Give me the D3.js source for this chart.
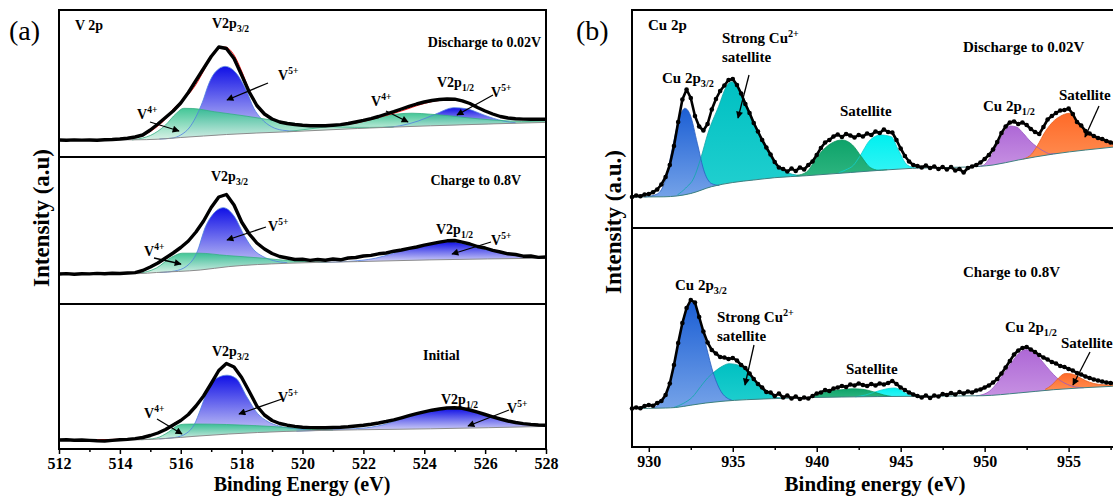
<!DOCTYPE html>
<html>
<head>
<meta charset="utf-8">
<script src="https://cdn.jsdelivr.net/npm/d3@7"></script>
<style>
  body { margin: 0; background: #fff; }
  text { font-family: "Liberation Serif", "Times New Roman", serif; }
</style>
</head>
<body>
<svg id="chart" width="1113" height="500"></svg>
<script>
// ---------- V 2p spectra (512–528 eV, 0.25 eV steps) ----------
const vEnergyStart = 512, vEnergyStep = 0.25;
const vDischarge = [
  17.0,16.8,17.1,16.9, 17.0,16.8,17.2,17.5, 18.0,18.8,20.0,22.0, 27.0,33.0,39.5,46.0,
  54.0,64.5,76.5,88.5, 100.5,110.0,108.5,98.5, 82.0,65.0,51.5,43.0, 38.0,35.0,33.5,32.5,
  31.8,31.3,31.2,31.3, 31.8,32.4,33.5,35.0, 36.6,38.4,40.5,43.0, 45.4,48.0,50.6,53.0,
  55.0,56.5,57.5,58.0, 57.8,56.2,53.5,49.5, 46.0,43.0,40.5,39.0, 38.2,37.9,37.8,37.9, 37.8];
const vCharge = [
  30.0,30.4,29.8,30.3, 30.1,30.6,30.2,30.8, 30.5,31.0,31.4,33.5, 37.0,41.0,46.0,51.0,
  56.5,63.0,72.0,83.0, 96.5,107.0,109.5,99.0, 82.0,70.0,61.0,55.0, 50.5,47.5,46.0,44.5,
  44.8,43.6,44.5,43.8, 45.0,44.2,46.0,46.5, 48.0,48.6,50.2,51.0, 52.8,54.0,55.6,57.0,
  58.8,60.4,61.8,63.2, 63.5,61.8,60.0,57.5, 56.0,53.6,52.0,50.2, 49.5,47.8,48.0,46.6, 47.0];
const vInitial = [
  9.0,9.2,8.8,9.0, 8.6,8.2,8.0,8.6, 9.2,9.6,10.4,11.5, 13.5,16.0,19.5,24.0,
  28.5,34.5,43.0,53.0, 65.5,78.5,85.5,82.0, 71.5,57.5,43.0,34.0, 28.5,25.5,23.8,22.6,
  21.8,21.4,21.3,21.3, 21.5,21.8,22.3,23.0, 23.8,24.8,26.0,27.5, 29.2,31.2,33.3,35.3,
  37.2,38.8,40.0,41.0, 41.3,40.6,39.0,36.8, 34.5,32.2,30.0,28.0, 26.5,25.4,24.6,24.0, 23.8];

// Shirley backgrounds [eV, intensity]
const vDischargeBg = [[512,17],[514.5,17.2],[515.25,17.8],[516,19.5],[516.75,21],[517.5,22.5],[518.5,24],[519.5,25.2],[521.8,28.5],[524.2,31.2],[528,34.6]];
const vChargeBg    = [[512,30],[514.6,30.4],[515.2,31.5],[516.64,34],[517.58,37.4],[519.46,40.7],[521.8,42.4],[524.16,44.1],[528,45.8]];
const vInitialBg   = [[512,9],[514.6,9.2],[515.5,10.5],[516.5,12.8],[517.58,15],[519.46,17.6],[521.8,19.2],[524.2,20.2],[528,22.6]];

// Fitted envelopes
const vDischargeFit = [[512,17],[513.5,17.2],[514.25,18.5],[514.75,21.5],[515.25,31],[515.5,38],[515.75,48],[516,55],[516.25,62.5],[516.5,72.5],[516.75,86],[517,100],[517.25,108.5],[517.45,110],[517.75,102],[518,86],[518.25,67],[518.5,53],[518.75,43.5],[519,38],[519.5,33.5],[520.25,31.5],[521,31.5],[521.75,34],[522.5,39.5],[523.25,46],[524,53.5],[524.5,56.5],[525,57],[525.5,53],[526,46],[526.5,41],[527,38.2],[528,37.5]];
const vChargeFit = [[512,30.2],[514.5,31],[515,36.5],[515.5,45.5],[516,56],[516.5,71.5],[517,95],[517.25,106],[517.45,109.5],[517.75,99],[518,83],[518.5,61],[519,50.5],[519.5,46],[520.5,44],[521.5,45.2],[522.5,50],[523.5,55.5],[524.5,61.5],[525,63],[525.5,60],[526,55.5],[526.5,51.8],[527,49],[528,46.8]];
const vInitialFit = [[512,9],[514.5,10],[515,13],[515.5,19.5],[515.8,26],[516.1,31],[516.4,39],[516.7,50],[517,66],[517.3,80],[517.5,84.5],[517.8,80],[518.1,66],[518.4,48],[518.75,34],[519.2,26],[520,22],[521,21.5],[522,24],[523,29.3],[524,37],[524.75,41],[525.25,40.3],[526,34.5],[526.75,28],[527.5,24.5],[528,23.7]];

// Fitted components [eV, intensity]
const vDischargeV5a = [[515.3,18],[515.7,18.8],[516.0,22],[516.3,30],[516.58,45.3],[516.75,58],[516.88,70],[517.11,84],[517.46,90.6],[517.82,83.9],[518.17,65.4],[518.4,48.7],[518.64,38.6],[518.99,30.2],[519.34,26.8],[519.8,25.7]];
const vDischargeV5b = [[522.6,29.4],[523.2,31.2],[523.8,36],[524.34,42.5],[524.98,49.3],[525.4,48.2],[525.69,45.3],[526.0,41.5],[526.28,38.6],[526.6,36],[527.0,34.3]];
const vDischargeV4a = [[514.4,17.1],[514.75,19],[515.0,21.5],[515.5,32],[515.85,43.6],[516.1,48.7],[516.4,48.5],[517.1,45.3],[518.05,41.3],[519.0,36.9],[520.0,32.6],[521.2,30.0],[522.2,29.6],[523.0,30.0]];
const vDischargeV4b = [[519.5,25.3],[520.6,29.5],[521.4,32.5],[521.8,34.5],[522.4,38.6],[523.0,42.6],[523.6,43.8],[524.2,42.8],[524.8,41.3],[525.4,39.3],[526.3,36.9],[527.2,35.6],[528,35.2]];

const vChargeV5a = [[515.3,31.5],[515.8,33],[516.2,38],[516.52,50.8],[516.82,77.8],[517.05,89.5],[517.4,96.3],[517.75,88],[518.1,67.7],[518.4,54.2],[518.7,47.5],[519.05,43.4],[519.5,41.3]];
const vChargeV5b = [[520.5,41.5],[521.5,42.6],[522.4,45.8],[522.99,50.8],[523.57,55.9],[524.16,59.9],[524.87,62.3],[525.34,59.9],[525.92,54.9],[526.51,51.5],[527.1,48.1],[528,46.3]];
const vChargeV4a = [[514.6,30.4],[515.2,36],[515.7,46.8],[516.05,50.8],[516.6,50.8],[517.5,48.5],[518.7,45.8],[519.5,43.5],[520.2,42.2],[520.8,41.8]];

const vInitialV5a = [[515.3,10.2],[515.8,11.5],[516.2,16],[516.45,24.8],[516.64,38.9],[516.88,58.8],[517.23,71.5],[517.52,73.8],[517.82,70.5],[518.17,52.2],[518.52,35.6],[518.87,27.3],[519.22,23],[519.7,20.5],[520.3,18.8]];
const vInitialV5b = [[519.8,17.8],[520.6,18.7],[521.4,19.8],[522.1,21.2],[522.75,25],[523.3,30.6],[524.0,36.2],[524.7,39.9],[525.0,40.6],[525.57,37.9],[526.28,31.6],[526.98,26.3],[527.6,24],[528,23.3]];
const vInitialV4a = [[514.7,9.3],[515.2,11],[515.6,17],[515.9,23.5],[516.1,24.8],[516.5,25],[517.5,24.5],[518.5,23.3],[519.5,21.5],[520.3,19.5],[521,18.9]];

// ---------- Cu 2p spectra (929–958 eV, 0.25 eV steps) ----------
const cuEnergyStart = 929, cuEnergyStep = 0.25;
const cuDischarge = [
  31.0,32.5,31.8,33.5, 34.0,35.8,38.5,43.5, 51.0,63.0,82.0,106.0, 128.5,138.5,130.0,112.0,
  101.5,97.5,104.0,118.5, 129.0,137.0,142.5,148.0, 149.0,143.0,134.5,124.0, 115.0,105.0,96.5,88.0,
  80.5,73.5,66.0,60.5, 59.0,56.5,59.5,57.0, 60.5,58.5,63.0,66.5, 73.0,80.0,85.5,88.0,
  91.5,93.5,91.0,94.0, 92.5,90.5,93.0,91.5, 94.5,93.0,96.5,95.0, 98.5,96.0,95.5,88.0,
  79.5,72.0,66.5,63.0, 62.0,60.5,62.5,60.0, 61.5,59.0,61.0,58.5, 61.0,57.5,59.0,55.5,
  60.0,61.5,63.0,65.5, 69.0,73.0,78.5,86.0, 95.0,101.5,105.5,106.5, 104.0,105.5,103.0,99.0,
  96.0,94.0,101.0,108.5, 112.0,115.0,117.5,118.0, 119.5,114.0,106.0,102.5, 97.0,94.5,92.0,90.0,
  89.0,87.0,85.5,84.5, 84.0];
const cuCharge = [
  38.5,39.5,38.8,41.0, 42.0,41.2,44.0,46.0, 52.0,63.5,82.0,104.0, 124.0,139.0,147.0,144.5,
  130.0,115.5,104.5,97.0, 93.5,90.0,89.5,88.0, 89.0,86.5,82.0,79.0, 73.5,68.0,63.0,59.5,
  55.0,54.5,51.0,53.5, 49.5,51.5,48.5,50.5, 48.0,49.5,48.5,51.0, 53.5,54.5,57.0,56.0,
  58.5,59.5,61.0,60.0, 62.5,61.5,63.5,62.0, 61.0,63.0,61.5,63.5, 62.5,64.0,66.0,63.0,
  59.5,57.0,54.5,52.5, 51.0,49.5,51.5,49.0, 51.5,50.5,53.0,52.0, 54.0,52.5,55.0,53.5,
  55.5,54.5,56.5,57.5, 59.5,61.5,64.5,68.0, 73.5,79.5,86.0,92.5, 96.5,99.0,100.0,97.5,
  95.0,92.0,89.5,87.5, 85.0,83.5,81.0,80.0, 78.0,76.5,74.0,72.5, 70.5,69.0,67.5,66.5,
  65.5,64.5,64.0,63.5, 63.0];

const cuDischargeBg = [[929,31],[930.9,31.2],[932.5,34.5],[933.73,41.3],[935,45.5],[936.25,48],[937.5,50.3],[939.4,52.3],[942,55.5],[945.7,59.7],[949,61],[950.5,63],[952,68],[954.1,74],[956,78],[958,81.5]];
const cuChargeBg = [[929,38.5],[931.0,39],[931.6,39.5],[932.5,41.8],[933.4,44],[934.36,45.7],[937.3,48.3],[941.5,50],[945.7,50.7],[949.9,51.3],[952,54],[954.1,57.3],[957.62,60.7],[958,61]];

const cuDischarge2p3 = [[929.74,31],[930.5,34],[931.0,48.5],[931.42,81.3],[931.84,111.3],[932.15,119.7],[932.47,113],[932.89,84.7],[933.31,56],[933.73,44.5],[934.2,42.5]];
const cuDischargeSatA = [[931.7,33],[932.2,40],[932.68,50],[933.1,70],[933.52,94.7],[934.15,121.3],[934.67,143],[934.93,146.3],[935.41,138],[936.04,114.7],[936.67,91.3],[937.3,71.3],[937.7,62],[938.14,56.3],[938.98,52.5]];
const cuDischargeSatB = [[938.8,52.5],[939.4,56],[940.03,71.3],[940.5,80],[940.87,84.7],[941.5,88],[942.13,83],[942.66,71.3],[943.18,60.5],[943.7,57.8],[944.2,58.3]];
const cuDischargeSatC = [[941.3,55.2],[941.71,58],[942.2,63],[942.55,71.3],[943.18,88],[943.81,93],[944.44,91.3],[944.86,78],[945.39,63],[945.91,60]];
const cuDischarge2p1 = [[949.5,61.5],[949.9,62.5],[950.3,70],[950.7,81.3],[951.1,94],[951.5,102],[951.9,101],[952.3,94.7],[952.7,87],[953.1,81.3],[953.5,77],[953.9,74.2],[954.3,74.5]];
const cuDischargeSatD = [[952.3,69],[952.8,74],[953.1,81.3],[953.67,98],[954.05,106],[954.46,111.3],[955.06,114.7],[955.65,103],[956.25,93],[956.9,89],[957.62,86.3],[958,85]];

const cuCharge2p3 = [[930.3,39.5],[930.6,42.5],[931.0,52],[931.21,60.7],[931.63,94],[932.15,134],[932.58,144.7],[932.99,130.7],[933.42,100.7],[933.84,74],[934.36,54],[934.99,46.5]];
const cuChargeSatA = [[931.5,39.6],[932.05,43.5],[932.6,50],[933.1,60.7],[933.5,69],[933.94,75.7],[934.4,81],[934.78,83.3],[935.2,82.5],[935.62,79],[936.05,72],[936.46,64],[936.9,57],[937.3,52.3],[937.7,49.5],[938.14,48.8]];
const cuChargeSatB = [[939.6,49.5],[940.03,51.5],[940.66,55.7],[941.5,57.3],[942.1,58.2],[942.55,58],[943.1,56.5],[943.6,54],[944.0,52],[944.44,50.6]];
const cuChargeSatC = [[942.3,50.2],[942.9,52],[943.6,55.7],[944.2,58.3],[944.65,59],[945.0,57],[945.28,54],[945.7,50.8]];
const cuCharge2p1 = [[949.5,51.2],[949.9,52.5],[950.3,56],[950.74,64],[951.15,73.5],[951.58,84],[952.0,93],[952.42,97.3],[952.85,96],[953.26,89],[953.68,80.5],[954.1,72.5],[954.5,66.5],[954.94,62.5],[955.4,60],[955.9,59.2]];
const cuChargeSatD = [[953.6,57.6],[954.0,62],[954.4,69],[954.8,73.5],[955.2,73],[955.6,70],[956.0,66.5],[956.5,63.5],[957.05,62.3],[957.62,62],[958,61.8]];

// Axis ticks
const vMajorTicks = [512,514,516,518,520,522,524,526,528];
const vMinorTicks = [513,515,517,519,521,523,525,527];
const cuMajorTicks = [930,935,940,945,950,955];
const cuMinorTicks = [932.5,937.5,942.5,947.5,952.5,957.5];

// ---------- styles ----------
const compStyle = {
  V5:     { top: "#1010e6", bottom: "#d9d9f7", line: "#4f7fe0", opacity: 1 },
  V4:     { top: "#2fc08c", bottom: "#d6f1e5", line: "#36b083", opacity: 0.9 },
  cuBlue: { top: "#1c5fd4", bottom: "#74a2e8", line: "#2a5fc0", opacity: 1 },
  cuTeal: { top: "#00c0c2", bottom: "#22d0d0", line: "#10a8a8", opacity: 1 },
  cuGreen:{ top: "#0ea36a", bottom: "#2cb47e", line: "#0d9460", opacity: 1 },
  cuCyan: { top: "#00f0f0", bottom: "#33f4f4", line: "#10d0d0", opacity: 1 },
  cuPurple:{ top: "#ae68d6", bottom: "#c690e2", line: "#9a58c2", opacity: 1 },
  cuOrange:{ top: "#ff6a28", bottom: "#ff8c50", line: "#e8601e", opacity: 1 }
};

const svg = d3.select("#chart");
const defs = svg.append("defs");
defs.append("marker").attr("id", "arrowHead")
  .attr("viewBox", "0 0 10 10").attr("refX", 9).attr("refY", 5)
  .attr("markerUnits", "userSpaceOnUse").attr("markerWidth", 10).attr("markerHeight", 7)
  .attr("orient", "auto")
  .append("path").attr("d", "M0,0 L10,5 L0,10 Z").attr("fill", "#000");

const xV = d3.scaleLinear().domain([512, 528]).range([59, 546]);
const xCu = d3.scaleLinear().domain([929, 958]).range([632, 1119]);

const toSeries = (vals, start, step) => vals.map((v, i) => [start + i * step, v]);

const panels = [
  { x: xV, top: 10, bottom: 157, data: toSeries(vDischarge, vEnergyStart, vEnergyStep), bg: vDischargeBg, fit: vDischargeFit,
    comps: [[vDischargeV5a,"V5"],[vDischargeV5b,"V5"],[vDischargeV4a,"V4"],[vDischargeV4b,"V4"]], kind: "V" },
  { x: xV, top: 157, bottom: 304, data: toSeries(vCharge, vEnergyStart, vEnergyStep), bg: vChargeBg, fit: vChargeFit,
    comps: [[vChargeV5a,"V5"],[vChargeV5b,"V5"],[vChargeV4a,"V4"]], kind: "V" },
  { x: xV, top: 304, bottom: 449, data: toSeries(vInitial, vEnergyStart, vEnergyStep), bg: vInitialBg, fit: vInitialFit,
    comps: [[vInitialV5a,"V5"],[vInitialV5b,"V5"],[vInitialV4a,"V4"]], kind: "V" },
  { x: xCu, top: 10, bottom: 228, data: toSeries(cuDischarge, cuEnergyStart, cuEnergyStep), bg: cuDischargeBg, fit: null,
    comps: [[cuDischargeSatA,"cuTeal"],[cuDischarge2p3,"cuBlue"],[cuDischargeSatC,"cuCyan"],[cuDischargeSatB,"cuGreen"],[cuDischarge2p1,"cuPurple"],[cuDischargeSatD,"cuOrange"]], kind: "Cu" },
  { x: xCu, top: 228, bottom: 447, data: toSeries(cuCharge, cuEnergyStart, cuEnergyStep), bg: cuChargeBg, fit: null,
    comps: [[cuChargeSatA,"cuTeal"],[cuCharge2p3,"cuBlue"],[cuChargeSatC,"cuCyan"],[cuChargeSatB,"cuGreen"],[cuCharge2p1,"cuPurple"],[cuChargeSatD,"cuOrange"]], kind: "Cu" }
];

panels.forEach((p, idx) => {
  const x = p.x;
  const y = d3.scaleLinear().domain([0, p.bottom - p.top]).range([p.bottom, p.top]);
  const g = svg.append("g");
  const smooth = d3.curveMonotoneX;

  // region above the background, used to clip component fills
  const clipId = "aboveBg" + idx;
  defs.append("clipPath").attr("id", clipId).append("path")
    .attr("d", d3.area().curve(smooth).x(d => x(d[0])).y0(p.top).y1(d => y(d[1]))(p.bg));

  const compArea = d3.area().curve(smooth).x(d => x(d[0])).y0(p.bottom).y1(d => y(d[1]));
  const curveLine = d3.line().curve(smooth).x(d => x(d[0])).y(d => y(d[1]));

  const fills = g.append("g").attr("clip-path", `url(#${clipId})`);
  p.comps.forEach(([pts, key], j) => {
    const st = compStyle[key];
    const vals = pts.map(d => d[1]);
    const gid = `grad${idx}_${j}`;
    const grad = defs.append("linearGradient").attr("id", gid)
      .attr("gradientUnits", "userSpaceOnUse")
      .attr("x1", 0).attr("x2", 0)
      .attr("y1", y(d3.max(vals))).attr("y2", y(Math.min(vals[0], vals[vals.length - 1])));
    grad.append("stop").attr("offset", 0).attr("stop-color", st.top);
    grad.append("stop").attr("offset", 1).attr("stop-color", st.bottom);
    fills.append("path").attr("d", compArea(pts))
      .attr("fill", `url(#${gid})`).attr("fill-opacity", st.opacity);
  });
  p.comps.forEach(([pts, key]) => {
    g.append("path").attr("d", curveLine(pts)).attr("fill", "none")
      .attr("stroke", compStyle[key].line).attr("stroke-width", 0.8);
  });

  // background
  g.append("path").attr("d", curveLine(p.bg)).attr("fill", "none")
    .attr("stroke", p.kind === "V" ? "#8c8c8c" : "#3f7f80").attr("stroke-width", 1);

  // envelope
  if (p.fit) {
    g.append("path").attr("d", curveLine(p.fit)).attr("fill", "none")
      .attr("stroke", "#ff1a1a").attr("stroke-width", 1);
  }

  // measured points
  const dataLine = d3.line().x(d => x(d[0])).y(d => y(d[1]));
  if (p.kind === "V") {
    g.append("path").attr("d", dataLine(p.data)).attr("fill", "none")
      .attr("stroke", "#000").attr("stroke-width", 3.4).attr("stroke-linejoin", "round");
  } else {
    g.append("path").attr("d", dataLine(p.data)).attr("fill", "none")
      .attr("stroke", "#000").attr("stroke-width", 2.6).attr("stroke-linejoin", "round");
    g.selectAll("circle.pt").data(p.data).join("circle").attr("class", "pt")
      .attr("cx", d => x(d[0])).attr("cy", d => y(d[1])).attr("r", 2.3).attr("fill", "#000");
  }
});

// ---------- frames ----------
const frame = svg.append("g").attr("fill", "none").attr("stroke", "#000").attr("stroke-width", 2);
frame.append("rect").attr("x", 59).attr("y", 10).attr("width", 487).attr("height", 439);
frame.append("line").attr("x1", 59).attr("x2", 546).attr("y1", 157).attr("y2", 157);
frame.append("line").attr("x1", 59).attr("x2", 546).attr("y1", 304).attr("y2", 304);
frame.append("rect").attr("x", 632).attr("y", 10).attr("width", 487).attr("height", 437);
frame.append("line").attr("x1", 632).attr("x2", 1119).attr("y1", 228).attr("y2", 228);

// ---------- axes ----------
function drawAxis(scale, yPos, major, minor) {
  const gMinor = svg.append("g").attr("transform", `translate(0,${yPos})`)
    .call(d3.axisBottom(scale).tickValues(minor).tickSize(3).tickFormat(""));
  const gMajor = svg.append("g").attr("transform", `translate(0,${yPos})`)
    .call(d3.axisBottom(scale).tickValues(major).tickSize(5).tickPadding(4).tickFormat(d3.format("d")));
  [gMinor, gMajor].forEach(a => {
    a.select(".domain").remove();
    a.selectAll("line").attr("stroke", "#000").attr("stroke-width", 1.5);
    a.selectAll("text").attr("font-family", '"Liberation Serif", serif')
      .attr("font-size", 16).attr("font-weight", "bold").attr("fill", "#000");
  });
}
drawAxis(xV, 449, vMajorTicks, vMinorTicks);
drawAxis(xCu, 447, cuMajorTicks, cuMinorTicks);

// ---------- titles ----------
svg.append("text").attr("x", 302).attr("y", 491).attr("text-anchor", "middle")
  .attr("font-size", 20).attr("font-weight", "bold").text("Binding Energy (eV)");
svg.append("text").attr("x", 875).attr("y", 491).attr("text-anchor", "middle")
  .attr("font-size", 21).attr("font-weight", "bold").text("Binding energy (eV)");
svg.append("text").attr("transform", "translate(49,218) rotate(-90)").attr("text-anchor", "middle")
  .attr("font-size", 23).attr("font-weight", "bold").text("Intensity (a.u)");
svg.append("text").attr("transform", "translate(621,222) rotate(-90)").attr("text-anchor", "middle")
  .attr("font-size", 23).attr("font-weight", "bold").text("Intensity (a.u.)");
svg.append("text").attr("x", 9).attr("y", 40).attr("font-size", 28).text("(a)");
svg.append("text").attr("x", 576).attr("y", 40).attr("font-size", 28).text("(b)");

// ---------- annotations ----------
function rich(x, y, parts, size, anchor) {
  const t = svg.append("text").attr("x", x).attr("y", y).attr("font-size", size)
    .attr("font-weight", "bold").attr("text-anchor", anchor || "start");
  let shift = 0;
  parts.forEach(part => {
    const [str, mode] = Array.isArray(part) ? part : [part, null];
    const target = mode === "sup" ? -0.4 * size : mode === "sub" ? 0.28 * size : 0;
    t.append("tspan").attr("dy", target - shift)
      .attr("font-size", mode ? size * 0.68 : size).text(str);
    shift = target;
  });
}
function arrow(x1, y1, x2, y2) {
  svg.append("line").attr("x1", x1).attr("y1", y1).attr("x2", x2).attr("y2", y2)
    .attr("stroke", "#000").attr("stroke-width", 1.3).attr("marker-end", "url(#arrowHead)");
}

// Panel (a), discharge
rich(75, 30, ["V 2p"], 14);
rich(212, 28, ["V2p", ["3/2","sub"]], 14);
rich(541, 47, ["Discharge to 0.02V"], 14, "end");
rich(278, 80, ["V", ["5+","sup"]], 14);  arrow(268, 83, 227, 100);
rich(137, 119, ["V", ["4+","sup"]], 14); arrow(150, 122, 179, 131);
rich(371, 106, ["V", ["4+","sup"]], 14); arrow(386, 111, 408, 122);
rich(437, 87, ["V2p", ["1/2","sub"]], 14);
rich(491, 97, ["V", ["5+","sup"]], 14);  arrow(493, 95, 457, 115);
// Panel (a), charge
rich(211, 181, ["V2p", ["3/2","sub"]], 14);
rich(521, 185, ["Charge to 0.8V"], 14, "end");
rich(268, 231, ["V", ["5+","sup"]], 14); arrow(266, 227, 227, 240);
rich(144, 256, ["V", ["4+","sup"]], 14); arrow(154, 258, 181, 264);
rich(436, 234, ["V2p", ["1/2","sub"]], 14);
rich(491, 245, ["V", ["5+","sup"]], 14); arrow(491, 242, 452, 254);
// Panel (a), initial
rich(212, 356, ["V2p", ["3/2","sub"]], 14);
rich(423, 360, ["Initial"], 14);
rich(144, 418, ["V", ["4+","sup"]], 14); arrow(157, 419, 182, 434);
rich(278, 402, ["V", ["5+","sup"]], 14); arrow(282, 399, 239, 414);
rich(441, 404, ["V2p", ["1/2","sub"]], 14);
rich(507, 413, ["V", ["5+","sup"]], 14); arrow(509, 410, 468, 426);

// Panel (b), discharge
rich(648, 30, ["Cu 2p"], 15);
rich(722, 43, ["Strong Cu", ["2+","sup"]], 15);
rich(722, 62, ["satellite"], 15);
rich(662, 83, ["Cu 2p", ["3/2","sub"]], 15);
arrow(749, 75, 738, 118);
rich(840, 116, ["Satellite"], 15);
rich(963, 52, ["Discharge to 0.02V"], 15);
rich(983, 111, ["Cu 2p", ["1/2","sub"]], 15);
rich(1059, 100, ["Satellite"], 15);
arrow(1099, 106, 1085, 137);
// Panel (b), charge
rich(963, 277, ["Charge to 0.8V"], 15);
rich(675, 290, ["Cu 2p", ["3/2","sub"]], 15);
rich(717, 322, ["Strong Cu", ["2+","sup"]], 15);
rich(717, 341, ["satellite"], 15);
arrow(754, 345, 745, 385);
rich(846, 374, ["Satellite"], 15);
rich(1005, 332, ["Cu 2p", ["1/2","sub"]], 15);
rich(1061, 348, ["Satellite"], 15);
arrow(1090, 352, 1073, 385);
</script>
</body>
</html>
